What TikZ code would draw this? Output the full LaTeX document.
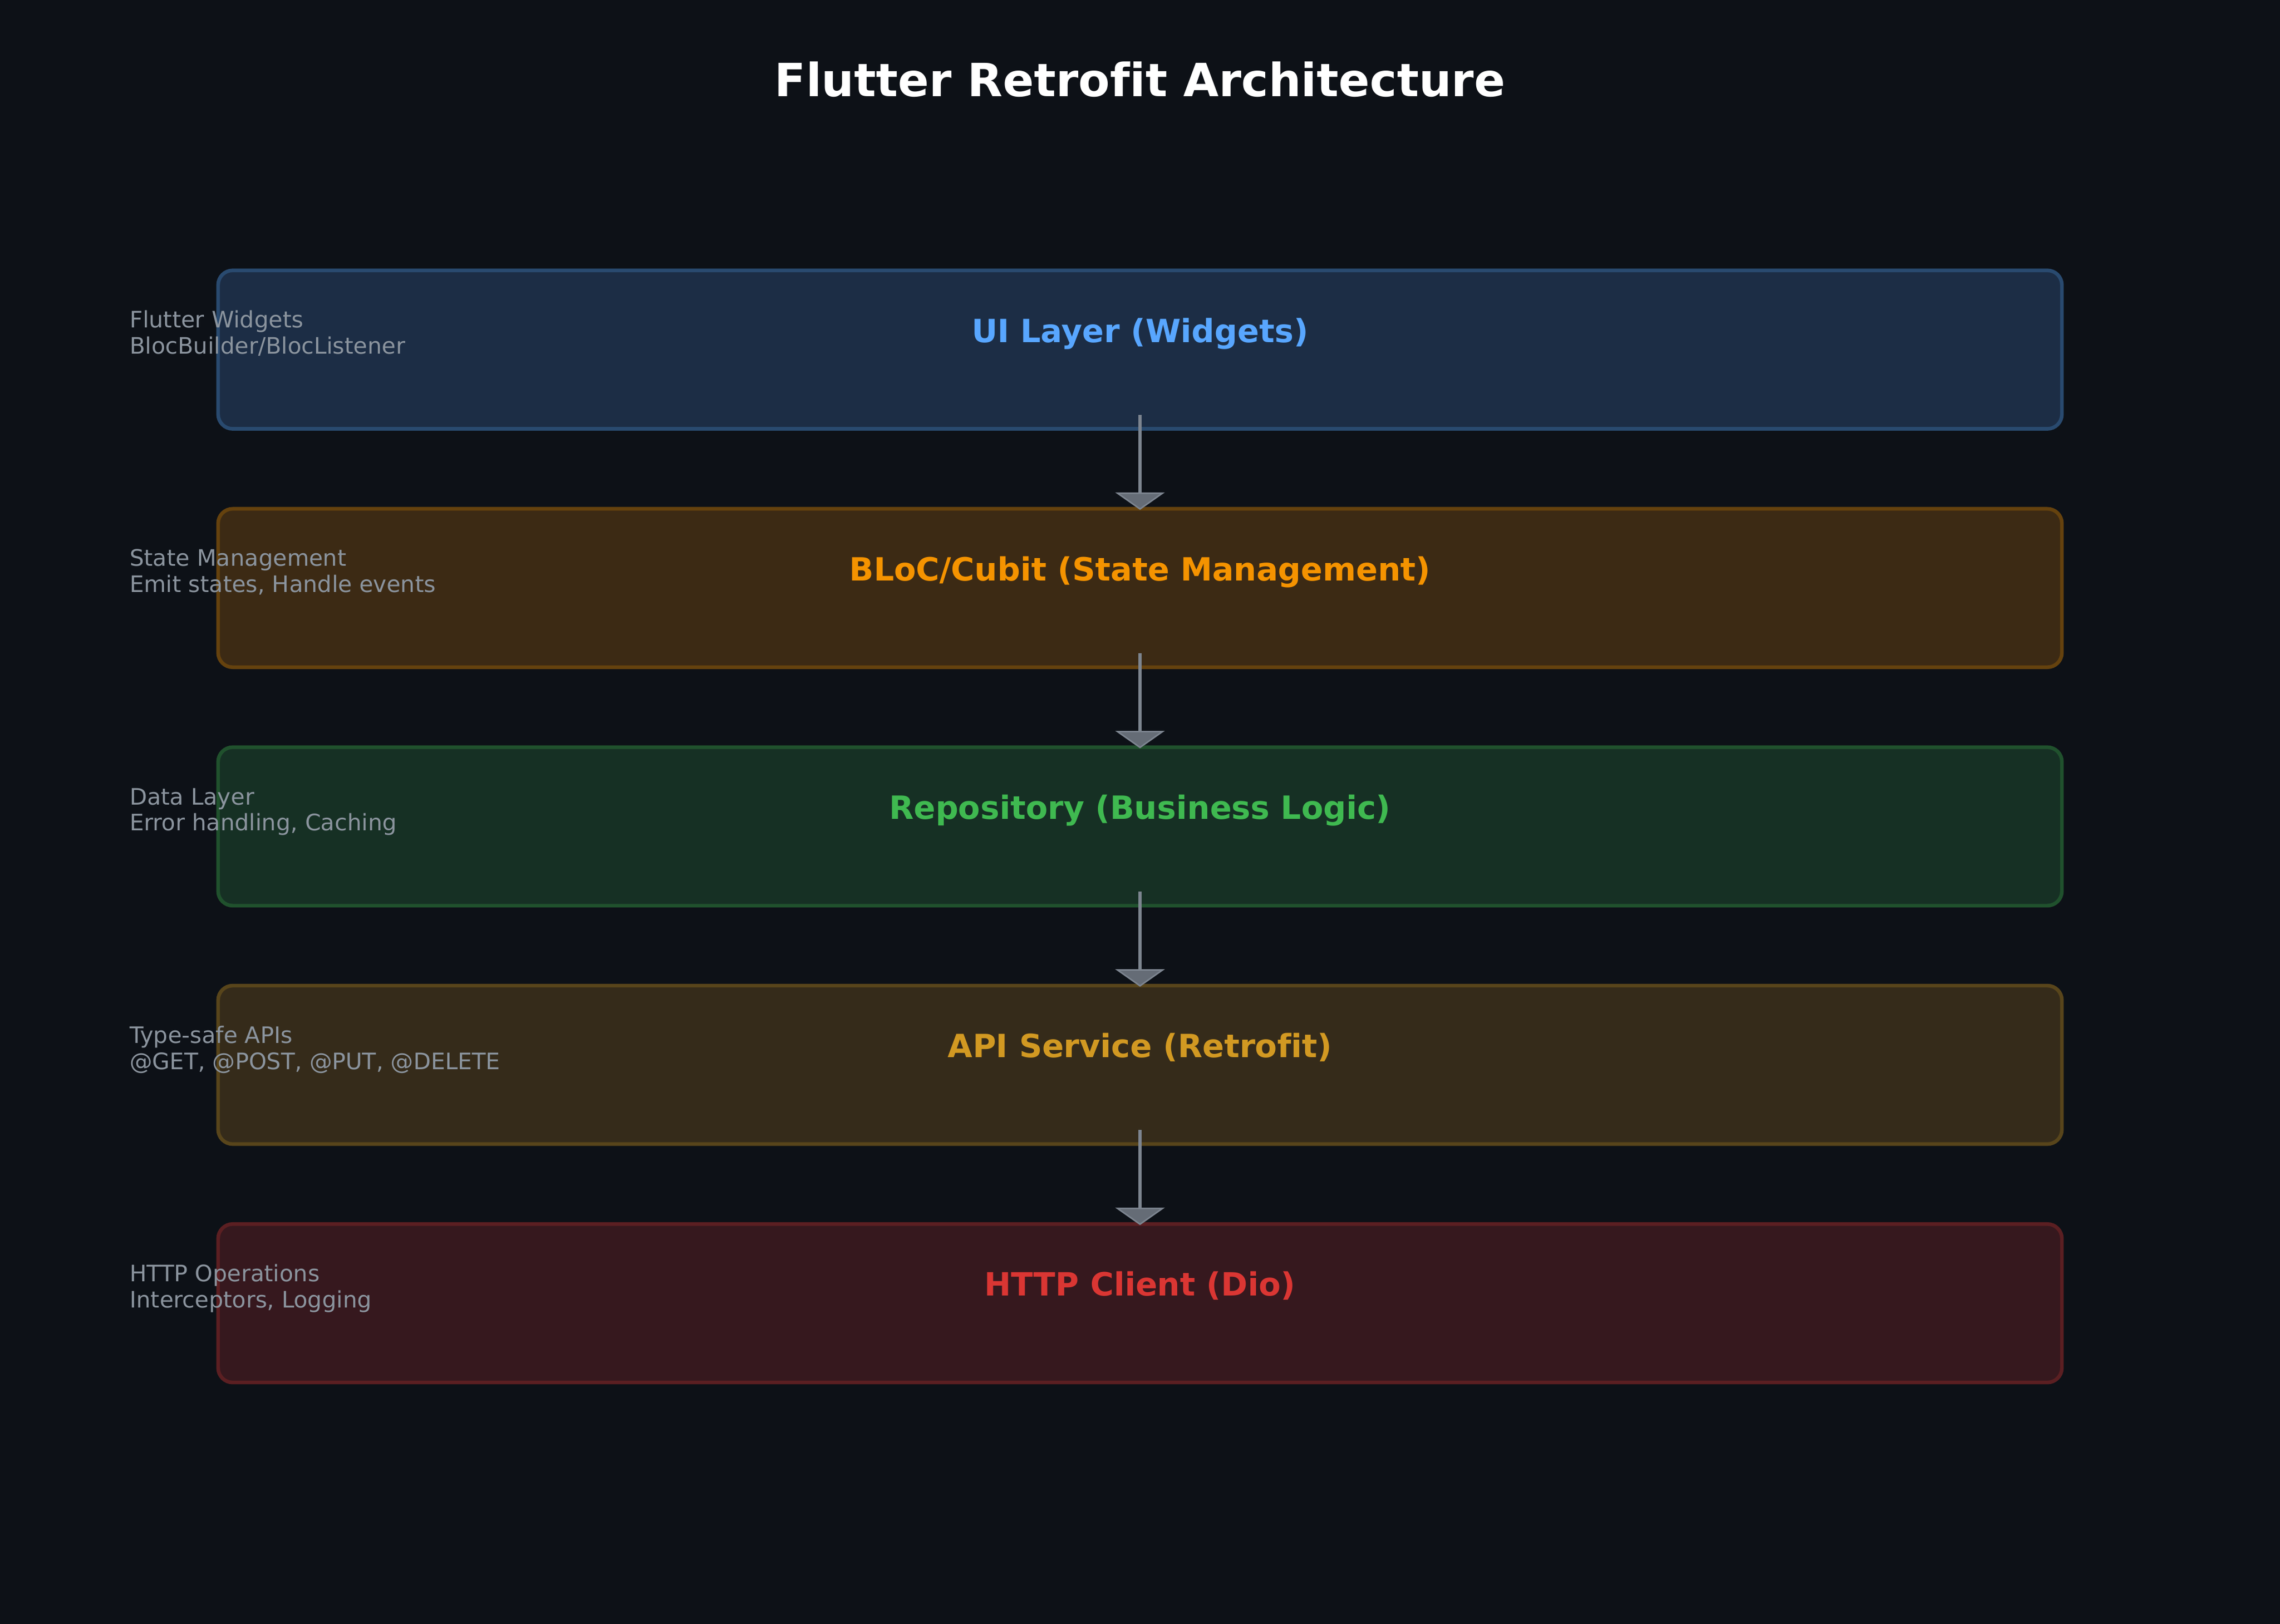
\documentclass[tikz,border=0pt]{standalone}
\usepackage{fontspec}
\setmainfont{DejaVu Sans}[Ligatures=NoCommon]
\usetikzlibrary{arrows.meta}
\definecolor{bg}{HTML}{0D1117}
\definecolor{sidegray}{HTML}{8B949E}
\definecolor{arrowgray}{HTML}{7D8590}
\definecolor{arrowfill}{HTML}{656C76}
\definecolor{cblue}{HTML}{58A6FF}\definecolor{fblue}{HTML}{1C2D45}
\definecolor{corange}{HTML}{F59300}\definecolor{forange}{HTML}{3C2A14}
\definecolor{cgreen}{HTML}{3FB950}\definecolor{fgreen}{HTML}{163024}
\definecolor{cgold}{HTML}{D29922}\definecolor{fgold}{HTML}{352B1A}
\definecolor{cred}{HTML}{DA3633}\definecolor{fred}{HTML}{36181E}
\tikzset{
  layerbox/.style={draw=#1!38!bg, line width=2.5pt, rounded corners=10pt,
    minimum width=1268pt, minimum height=109pt, inner sep=0pt},
  layerlabel/.style={text=#1, font=\bfseries\fontsize{22}{26}\selectfont, anchor=base, inner sep=0pt},
  sidelabel/.style={text=sidegray, font=\fontsize{15.6}{18}\selectfont, anchor=base west, inner sep=0pt},
  flowarrow/.style={draw=arrowgray, line width=2.5pt, shorten >=-2pt,
    -{Triangle[width=34pt,length=12pt,fill=arrowfill,line width=1pt]}},
}
\begin{document}
\begin{tikzpicture}[x=1pt,y=-1pt]
\useasboundingbox (0,0) rectangle (1568,1116.8);
\fill[bg] (-6,-6) rectangle (1574,1123);
\node[text=white, font=\bfseries\fontsize{31.5}{36}\selectfont, anchor=base, inner sep=0pt] (title) at (784,66.5) {Flutter Retrofit Architecture};
% boxes
\node[layerbox=cblue, fill=fblue] (b1) at (784,240.5) {};
\node[layerbox=corange, fill=forange] (b2) at (784,404.5) {};
\node[layerbox=cgreen, fill=fgreen] (b3) at (784,568.5) {};
\node[layerbox=cgold, fill=fgold] (b4) at (784,732.5) {};
\node[layerbox=cred, fill=fred] (b5) at (784,896.5) {};
% labels
\node[layerlabel=cblue] (l1) at (784,235.5) {UI Layer (Widgets)};
\node[layerlabel=corange] (l2) at (784,399.5) {BLoC/Cubit (State Management)};
\node[layerlabel=cgreen] (l3) at (784,563.5) {Repository (Business Logic)};
\node[layerlabel=cgold] (l4) at (784,727.5) {API Service (Retrofit)};
\node[layerlabel=cred] (l5) at (784,891.5) {HTTP Client (Dio)};
% side labels
\node[sidelabel] (s1a) at (89,225.5) {Flutter Widgets};
\node[sidelabel] (s1b) at (89,243.5) {BlocBuilder/BlocListener};
\node[sidelabel] (s2a) at (89,389.5) {State Management};
\node[sidelabel] (s2b) at (89,407.5) {Emit states, Handle events};
\node[sidelabel] (s3a) at (89,553.5) {Data Layer};
\node[sidelabel] (s3b) at (89,571.5) {Error handling, Caching};
\node[sidelabel] (s4a) at (89,717.5) {Type-safe APIs};
\node[sidelabel] (s4b) at (89,735.5) {@GET, @POST, @PUT, @DELETE};
\node[sidelabel] (s5a) at (89,881.5) {HTTP Operations};
\node[sidelabel] (s5b) at (89,899.5) {Interceptors, Logging};
% arrows
\draw[flowarrow] ([yshift=11pt]b1.south) -- (b2.north);
\draw[flowarrow] ([yshift=11pt]b2.south) -- (b3.north);
\draw[flowarrow] ([yshift=11pt]b3.south) -- (b4.north);
\draw[flowarrow] ([yshift=11pt]b4.south) -- (b5.north);
\end{tikzpicture}
\end{document}
